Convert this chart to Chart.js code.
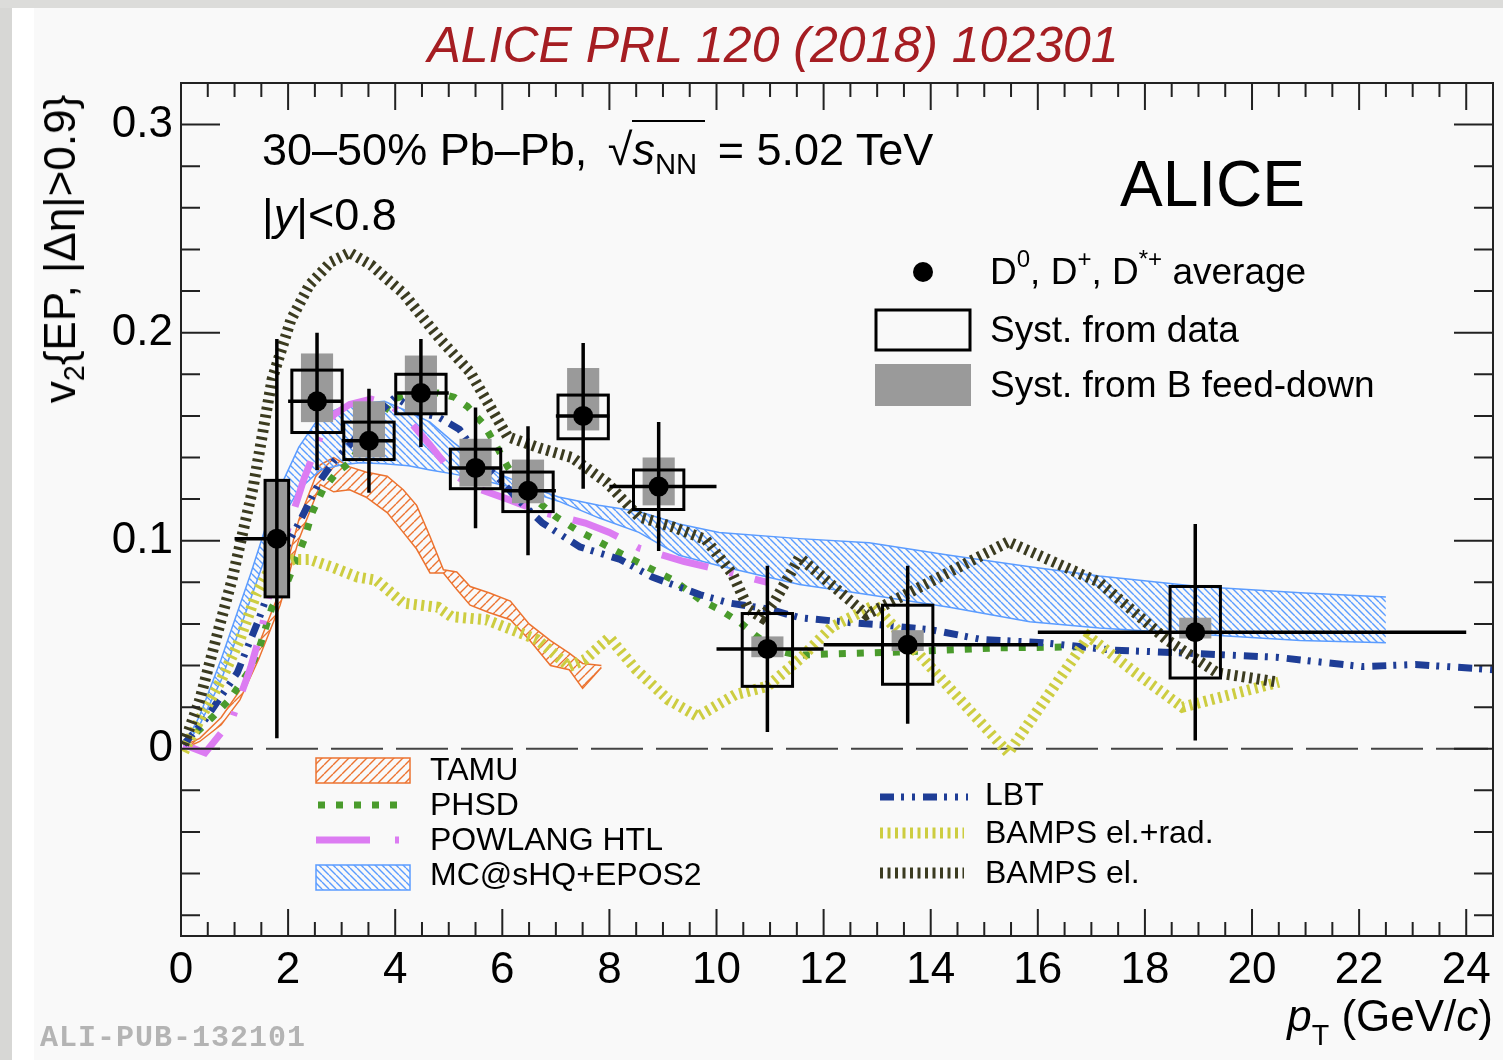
<!DOCTYPE html>
<html>
<head>
<meta charset="utf-8">
<script src="https://cdn.jsdelivr.net/npm/chart.js@4.4.1/dist/chart.umd.min.js"></script>
<style>
  html, body { margin: 0; padding: 0; background: #f9f9f9; }
  #wrap { position: relative; width: 1503px; height: 1060px; overflow: hidden; background: #f9f9f9; }
  #edgeL { position: absolute; left: 0; top: 0; width: 12px; height: 1060px; background: #d7d7d5; }
  #edgeT { position: absolute; left: 0; top: 0; width: 1503px; height: 8px; background: #dcdcda; }
  #whiteL { position: absolute; left: 12px; top: 8px; width: 22px; height: 1052px; background: #ffffff; }
  canvas { position: absolute; left: 0; top: 0; }
  .t { position: absolute; line-height: 1; white-space: nowrap; color: #000;
       font-family: "Liberation Sans", Arial, Helvetica, sans-serif; pointer-events: none; }
  .t sub { font-size: 0.65em; vertical-align: -0.3em; line-height: 0; }
  .t sup { font-size: 0.65em; vertical-align: 0.7em; line-height: 0; }
  .ov { border-top: 2px solid #000; padding-top: 2px; padding-right: 8px; }
</style>
</head>
<body>
<div id="wrap">
  <div id="edgeL"></div><div id="edgeT"></div><div id="whiteL"></div>
  <canvas id="c" width="1503" height="1060"></canvas>

  <div class="t" style="left:273px;top:20px;width:1000px;text-align:center;font-size:50px;font-style:italic;color:#a51d22">ALICE PRL 120 (2018) 102301</div>
  <div class="t" style="left:60px;top:249px;font-size:44px;transform:translate(-50%,-50%) rotate(-90deg)">v<sub>2</sub>{EP, |Δη|&gt;0.9}</div>
  <div class="t" style="right:10px;top:994px;font-size:44px"><i>p</i><sub style="vertical-align:-0.5em">T</sub> (GeV/<i>c</i>)</div>
  <div class="t" style="left:40px;top:1021px;font:bold 30px 'Liberation Mono', monospace;color:#b4b4b4;letter-spacing:1px">ALI-PUB-132101</div>

  <div class="t" style="left:262px;top:127px;font-size:45px">30–50% Pb–Pb, <span style="margin-left:8px">√</span><span class="ov"><i>s</i><sub>NN</sub></span> = 5.02 TeV</div>
  <div class="t" style="left:262px;top:192px;font-size:45px">|<i>y</i>|&lt;0.8</div>
  <div class="t" style="left:1120px;top:152px;font-size:64px">ALICE</div>

  <div class="t" style="left:990px;top:253px;font-size:37px">D<sup>0</sup>, D<sup>+</sup>, D<sup>*+</sup> average</div>
  <div class="t" style="left:990px;top:311px;font-size:37px">Syst. from data</div>
  <div class="t" style="left:990px;top:366px;font-size:37px">Syst. from B feed-down</div>

  <div class="t" style="left:430px;top:753px;font-size:32px">TAMU</div>
  <div class="t" style="left:430px;top:788px;font-size:32px">PHSD</div>
  <div class="t" style="left:430px;top:823px;font-size:32px">POWLANG HTL</div>
  <div class="t" style="left:430px;top:858px;font-size:32px">MC@sHQ+EPOS2</div>
  <div class="t" style="left:985px;top:778px;font-size:32px">LBT</div>
  <div class="t" style="left:985px;top:816px;font-size:32px">BAMPS el.+rad.</div>
  <div class="t" style="left:985px;top:856px;font-size:32px">BAMPS el.</div>
</div>

<script>
// axis ticks
const xTicks = [0, 2, 4, 6, 8, 10, 12, 14, 16, 18, 20, 22, 24];
const yTicks = [0, 0.1, 0.2, 0.3];

// D-meson average v2 (points, stat. errors, pT bins, syst. boxes)
const dataX = [1.79, 2.54, 3.51, 4.48, 5.50, 6.48, 7.51, 8.92, 10.95, 13.57, 18.94];
const dataY = [0.101, 0.167, 0.148, 0.171, 0.135, 0.124, 0.160, 0.126, 0.048, 0.050, 0.056];
const statErr = [0.096, 0.033, 0.025, 0.026, 0.029, 0.031, 0.035, 0.031, 0.040, 0.038, 0.052];
const binLow = [1, 2, 3, 4, 5, 6, 7, 8, 10, 12, 16];
const binHigh = [2, 3, 4, 5, 6, 7, 8, 10, 12, 16, 24];
const systLow = [0.073, 0.152, 0.139, 0.161, 0.125, 0.114, 0.149, 0.115, 0.030, 0.031, 0.034];
const systHigh = [0.129, 0.182, 0.157, 0.180, 0.144, 0.133, 0.170, 0.134, 0.065, 0.069, 0.078];
const bfdLow = [0.073, 0.157, 0.140, 0.161, 0.126, 0.118, 0.153, 0.117, 0.044, 0.047, 0.053];
const bfdHigh = [0.129, 0.190, 0.167, 0.189, 0.149, 0.139, 0.183, 0.140, 0.054, 0.057, 0.063];

// TAMU band
const tamuX = [0.05, 0.35, 0.75, 1.1, 1.45, 1.85, 2.2, 2.6, 2.85, 3.15, 3.45, 3.85, 4.15, 4.4, 4.65, 4.9, 5.15, 5.4, 5.75, 6.15, 6.5, 6.9, 7.25, 7.5, 7.85];
const tamuHigh = [0.0015, 0.005, 0.015, 0.028, 0.050, 0.076, 0.110, 0.1365, 0.140, 0.1355, 0.133, 0.131, 0.1245, 0.117, 0.102, 0.086, 0.085, 0.078, 0.075, 0.071, 0.060, 0.052, 0.046, 0.041, 0.040];
const tamuLow = [0.0, 0.0035, 0.0115, 0.0235, 0.043, 0.069, 0.1005, 0.127, 0.1235, 0.1245, 0.121, 0.1135, 0.104, 0.096, 0.0845, 0.0845, 0.0765, 0.069, 0.0655, 0.062, 0.0525, 0.040, 0.038, 0.029, 0.039];

// MC@sHQ+EPOS2 band
const mcX = [0.05, 0.35, 0.75, 1.3, 1.75, 2.2, 2.6, 3.0, 3.35, 3.8, 4.25, 4.65, 5.1, 5.5, 5.95, 6.4, 7.05, 7.8, 8.55, 9.3, 10.05, 11.55, 12.85, 14.35, 15.85, 17.15, 19.0, 20.9, 22.5];
const mcHigh = [0.001, 0.016, 0.043, 0.084, 0.120, 0.145, 0.160, 0.164, 0.166, 0.167, 0.162, 0.157, 0.147, 0.139, 0.132, 0.127, 0.121, 0.117, 0.114, 0.108, 0.104, 0.101, 0.099, 0.093, 0.0875, 0.083, 0.078, 0.075, 0.073];
const mcLow = [0.0, 0.0115, 0.033, 0.072, 0.105, 0.1245, 0.134, 0.1365, 0.1375, 0.137, 0.136, 0.134, 0.132, 0.130, 0.127, 0.1245, 0.119, 0.111, 0.104, 0.093, 0.088, 0.079, 0.074, 0.068, 0.061, 0.058, 0.055, 0.052, 0.051];

// PHSD
const phsdX = [0.05, 0.6, 0.9, 1.25, 1.45, 1.7, 2.0, 2.3, 2.45, 2.65, 2.9, 3.15, 3.55, 3.95, 4.35, 4.8, 5.1, 5.35, 5.65, 5.9, 6.1, 6.4, 6.7, 7.0, 7.4, 7.7, 8.2, 8.7, 9.2, 9.7, 10.05, 10.45, 10.75, 11.1, 11.5, 12.05, 13.4, 15.3, 16.85];
const phsdY = [0.002, 0.0155, 0.0235, 0.0365, 0.0475, 0.068, 0.081, 0.1005, 0.1135, 0.1245, 0.1325, 0.1375, 0.153, 0.168, 0.171, 0.171, 0.169, 0.1645, 0.156, 0.145, 0.1355, 0.1245, 0.118, 0.1115, 0.105, 0.101, 0.094, 0.0875, 0.081, 0.0715, 0.067, 0.0605, 0.054, 0.0475, 0.045, 0.0455, 0.0465, 0.0485, 0.049];

// POWLANG HTL
const powX = [0.05, 0.45, 0.95, 1.3, 1.5, 1.75, 2.05, 2.3, 2.6, 2.85, 3.15, 3.55, 3.9, 4.25, 4.65, 5.1, 5.6, 6.15, 6.7, 7.55, 8.0, 8.55, 9.4, 10.05, 10.95];
const powY = [0.002, -0.002, 0.014, 0.039, 0.057, 0.086, 0.110, 0.130, 0.150, 0.1605, 0.1655, 0.168, 0.1655, 0.158, 0.146, 0.1315, 0.1245, 0.1195, 0.114, 0.1085, 0.104, 0.0965, 0.090, 0.086, 0.080];

// LBT
const lbtX = [0.05, 0.45, 1.05, 1.45, 1.85, 2.3, 2.6, 2.85, 3.15, 3.55, 4.0, 4.45, 4.8, 5.2, 5.7, 5.9, 6.3, 6.75, 7.45, 8.2, 8.8, 9.7, 10.25, 11.0, 11.55, 12.55, 13.1, 14.05, 14.95, 16.1, 17.35, 18.75, 20.45, 22.05, 23.05, 24.5];
const lbtY = [0.002, 0.014, 0.0365, 0.062, 0.091, 0.1135, 0.129, 0.138, 0.146, 0.158, 0.169, 0.1615, 0.1595, 0.1535, 0.1355, 0.131, 0.1195, 0.1085, 0.097, 0.091, 0.0825, 0.074, 0.070, 0.067, 0.063, 0.0605, 0.0595, 0.057, 0.0525, 0.051, 0.0475, 0.046, 0.044, 0.0395, 0.0405, 0.038];

// BAMPS el.+rad.
const bradX = [0.05, 0.35, 0.75, 1.1, 1.4, 1.65, 2.1, 2.4, 2.8, 3.3, 3.65, 4.15, 4.8, 5.05, 5.7, 6.3, 6.65, 7.25, 7.55, 8.0, 8.5, 9.1, 9.65, 10.35, 10.95, 11.55, 12.15, 12.95, 15.45, 16.95, 17.8, 18.7, 20.5];
const bradY = [-0.0015, 0.014, 0.033, 0.0525, 0.074, 0.086, 0.091, 0.091, 0.0875, 0.0825, 0.081, 0.070, 0.068, 0.0635, 0.062, 0.056, 0.0525, 0.0395, 0.043, 0.0535, 0.038, 0.0235, 0.0155, 0.026, 0.030, 0.043, 0.0585, 0.069, -0.002, 0.054, 0.037, 0.020, 0.032];

// BAMPS el.
const belX = [0.05, 0.35, 0.75, 0.95, 1.35, 1.7, 2.05, 2.4, 2.8, 3.15, 3.55, 4.15, 4.85, 5.4, 6.1, 6.7, 7.3, 7.95, 8.55, 9.2, 9.8, 10.3, 10.6, 10.85, 11.1, 11.55, 12.8, 15.45, 17.15, 18.4, 19.35, 20.5];
const belY = [0.002, 0.0235, 0.062, 0.081, 0.126, 0.1775, 0.206, 0.223, 0.234, 0.2385, 0.2325, 0.219, 0.1965, 0.181, 0.150, 0.1445, 0.140, 0.128, 0.1115, 0.1065, 0.1005, 0.084, 0.067, 0.063, 0.0715, 0.092, 0.0645, 0.0995, 0.080, 0.0525, 0.0365, 0.032];

const FONT = '"Liberation Sans", Arial, Helvetica, sans-serif';
const C = {
  tamu: '#ec7330', phsd: '#4a9b2c', pow: '#dc7cf2', mc: '#5b9cff',
  lbt: '#1e3d96', brad: '#cdcd40', bel: '#3b3b20', gray: '#9a9a9a'
};
const BAMPS_DASH = [3, 4.5];

function xy(xs, ys) { return xs.map((x, i) => ({ x: x, y: ys[i] })); }

function hatch(color, size, rising) {
  const c = document.createElement('canvas');
  c.width = size; c.height = size;
  const g = c.getContext('2d');
  g.strokeStyle = color; g.lineWidth = 1.4;
  g.beginPath();
  for (let k = -1; k <= 1; k++) {
    if (rising) { g.moveTo(k * size, size); g.lineTo(k * size + size, 0); }
    else { g.moveTo(k * size, 0); g.lineTo(k * size + size, size); }
  }
  g.stroke();
  return g.createPattern(c, 'repeat');
}
const tamuFill = hatch(C.tamu, 9, true);
const mcFill = hatch(C.mc, 7, false);

function model(label, xs, ys, color, width, dash) {
  return { label, data: xy(xs, ys), borderColor: color, borderWidth: width, borderDash: dash,
           borderCapStyle: 'butt', pointRadius: 0, fill: false };
}

// error bars, syst. boxes, frame, ticks, legend symbols
const decor = {
  id: 'decor',
  beforeDatasetsDraw(chart) {
    const ctx = chart.ctx, a = chart.chartArea, y0 = chart.scales.y.getPixelForValue(0);
    ctx.save();
    ctx.strokeStyle = '#444'; ctx.lineWidth = 2; ctx.setLineDash([52, 13]);
    ctx.beginPath(); ctx.moveTo(a.left + 20, y0); ctx.lineTo(a.right, y0); ctx.stroke();
    ctx.restore();
  },
  beforeDatasetDraw(chart, args) {
    if (args.index !== 0) return;
    const ctx = chart.ctx, xs = chart.scales.x, ys = chart.scales.y;
    ctx.save();
    dataX.forEach((x, i) => {
      const bw = i === 0 ? 0.22 : 0.47, gw = i === 0 ? 0.22 : 0.30;
      const gx0 = xs.getPixelForValue(x - gw), gx1 = xs.getPixelForValue(x + gw);
      const gy0 = ys.getPixelForValue(bfdHigh[i]), gy1 = ys.getPixelForValue(bfdLow[i]);
      ctx.fillStyle = C.gray;
      ctx.fillRect(gx0, gy0, gx1 - gx0, gy1 - gy0);
      const bx0 = xs.getPixelForValue(x - bw), bx1 = xs.getPixelForValue(x + bw);
      const by0 = ys.getPixelForValue(systHigh[i]), by1 = ys.getPixelForValue(systLow[i]);
      ctx.strokeStyle = '#000'; ctx.lineWidth = 3;
      ctx.strokeRect(bx0, by0, bx1 - bx0, by1 - by0);
      const px = xs.getPixelForValue(x), py = ys.getPixelForValue(dataY[i]);
      ctx.lineWidth = 3.5;
      ctx.beginPath();
      ctx.moveTo(px, ys.getPixelForValue(dataY[i] + statErr[i]));
      ctx.lineTo(px, ys.getPixelForValue(dataY[i] - statErr[i]));
      ctx.moveTo(xs.getPixelForValue(binLow[i]), py);
      ctx.lineTo(xs.getPixelForValue(binHigh[i]), py);
      ctx.stroke();
    });
    ctx.restore();
  },
  afterDraw(chart) {
    const ctx = chart.ctx, a = chart.chartArea, xs = chart.scales.x, ys = chart.scales.y;
    ctx.save();
    ctx.strokeStyle = '#222'; ctx.lineWidth = 2;
    ctx.strokeRect(a.left, a.top, a.right - a.left, a.bottom - a.top);
    ctx.beginPath();
    for (let k = 0; k * 0.5 <= xs.max + 1e-9; k++) {
      const p = xs.getPixelForValue(k * 0.5), L = k % 4 === 0 ? 27 : 14;
      ctx.moveTo(p, a.bottom); ctx.lineTo(p, a.bottom - L);
      ctx.moveTo(p, a.top); ctx.lineTo(p, a.top + L);
    }
    for (let k = Math.ceil(ys.min / 0.02); k * 0.02 <= ys.max + 1e-9; k++) {
      const p = ys.getPixelForValue(k * 0.02), L = k % 5 === 0 ? 39 : 19;
      ctx.moveTo(a.left, p); ctx.lineTo(a.left + L, p);
      ctx.moveTo(a.right, p); ctx.lineTo(a.right - L, p);
    }
    ctx.stroke();

    // legend symbols
    ctx.fillStyle = '#000';
    ctx.beginPath(); ctx.arc(923, 272, 10, 0, Math.PI * 2); ctx.fill();
    ctx.lineWidth = 3; ctx.strokeStyle = '#000'; ctx.strokeRect(876, 310, 94, 40);
    ctx.fillStyle = C.gray; ctx.fillRect(875, 364, 96, 42);

    ctx.fillStyle = tamuFill; ctx.fillRect(316, 758, 94, 25);
    ctx.lineWidth = 1.5; ctx.strokeStyle = C.tamu; ctx.strokeRect(316, 758, 94, 25);
    ctx.fillStyle = mcFill; ctx.fillRect(316, 865, 94, 25);
    ctx.strokeStyle = C.mc; ctx.strokeRect(316, 865, 94, 25);

    const seg = (x0, x1, y, color, w, dash) => {
      ctx.strokeStyle = color; ctx.lineWidth = w; ctx.setLineDash(dash); ctx.lineCap = 'butt';
      ctx.beginPath(); ctx.moveTo(x0, y); ctx.lineTo(x1, y); ctx.stroke();
    };
    seg(318, 408, 805, C.phsd, 7, [7, 11]);
    seg(316, 402, 840, C.pow, 7, [54, 25, 4, 25]);
    seg(880, 968, 797, C.lbt, 7, [14, 7, 3, 8, 3, 8]);
    seg(880, 964, 833, C.brad, 11, BAMPS_DASH);
    seg(880, 964, 873, C.bel, 11, BAMPS_DASH);
    ctx.restore();
  }
};

new Chart(document.getElementById('c'), {
  type: 'line',
  data: {
    datasets: [
      { label: 'D average', data: xy(dataX, dataY), showLine: false, pointRadius: 10,
        pointBackgroundColor: '#000', pointBorderWidth: 0, fill: false },
      model('BAMPS el.', belX, belY, C.bel, 11, BAMPS_DASH),
      model('BAMPS el.+rad.', bradX, bradY, C.brad, 11, BAMPS_DASH),
      model('LBT', lbtX, lbtY, C.lbt, 7, [14, 7, 3, 8, 3, 8]),
      model('POWLANG HTL', powX, powY, C.pow, 7, [48, 22, 4, 22]),
      model('PHSD', phsdX, phsdY, C.phsd, 7, [7, 11]),
      { label: 'MC@sHQ+EPOS2', data: xy(mcX, mcHigh), borderColor: C.mc, borderWidth: 1.5,
        pointRadius: 0, fill: '+1', backgroundColor: mcFill },
      { label: 'MC@sHQ low', data: xy(mcX, mcLow), borderColor: C.mc, borderWidth: 1.5,
        pointRadius: 0, fill: false },
      { label: 'TAMU', data: xy(tamuX, tamuHigh), borderColor: C.tamu, borderWidth: 1.5,
        pointRadius: 0, fill: '+1', backgroundColor: tamuFill },
      { label: 'TAMU low', data: xy(tamuX, tamuLow), borderColor: C.tamu, borderWidth: 1.5,
        pointRadius: 0, fill: false }
    ]
  },
  options: {
    responsive: false,
    animation: false,
    devicePixelRatio: 1,
    layout: { padding: { top: 83, right: 8, left: 0, bottom: 0 } },
    elements: { line: { tension: 0 } },
    plugins: { legend: { display: false }, tooltip: { enabled: false } },
    scales: {
      x: {
        type: 'linear', min: 0, max: 24.5,
        grid: { display: false, drawTicks: false }, border: { display: false },
        ticks: { color: '#000', font: { family: FONT, size: 44 }, padding: 8, maxRotation: 0, autoSkip: false },
        afterBuildTicks: s => { s.ticks = xTicks.map(v => ({ value: v })); },
        afterFit: s => { s.height = 124; }
      },
      y: {
        type: 'linear', min: -0.09, max: 0.32,
        grid: { display: false, drawTicks: false }, border: { display: false },
        ticks: { color: '#000', font: { family: FONT, size: 44 }, padding: 8, autoSkip: false,
                 callback: v => v === 0 ? '0' : v.toFixed(1) },
        afterBuildTicks: s => { s.ticks = yTicks.map(v => ({ value: v })); },
        afterFit: s => { s.width = 181; }
      }
    }
  },
  plugins: [decor]
});
</script>
</body>
</html>
